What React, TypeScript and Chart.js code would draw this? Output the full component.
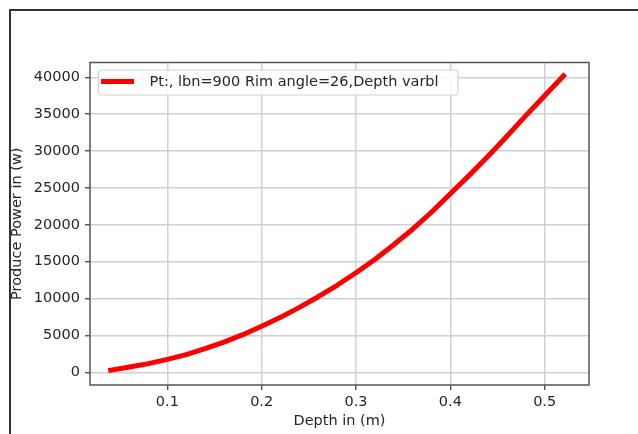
import React, { useEffect, useRef } from 'react';
import { Chart, registerables } from 'chart.js';

Chart.register(...registerables);

// ---- data ----
const depth = [
  0.04, 0.06, 0.08, 0.1, 0.12, 0.14, 0.16, 0.18, 0.2, 0.22, 0.24, 0.26, 0.28,
  0.3, 0.32, 0.34, 0.36, 0.38, 0.4, 0.42, 0.44, 0.46, 0.48, 0.5, 0.52,
];
const power = [
  300, 720, 1180, 1760, 2400, 3200, 4100, 5100, 6250, 7450, 8800, 10250, 11800,
  13500, 15300, 17300, 19400, 21700, 24200, 26700, 29300, 32000, 34800, 37500, 40200,
];
const xTickValues = [0.1, 0.2, 0.3, 0.4, 0.5];
const xTickLabels = ['0.1', '0.2', '0.3', '0.4', '0.5'];
const yTickValues = [0, 5000, 10000, 15000, 20000, 25000, 30000, 35000, 40000];
const yTickLabels = ['0', '5000', '10000', '15000', '20000', '25000', '30000', '35000', '40000'];
const seriesLabel = 'Pt:, lbn=900 Rim angle=26,Depth varbl';
const xTitle = 'Depth in (m)';
const yTitle = 'Produce Power in (w)';

const FONT = '"DejaVu Sans", sans-serif';
const FS = 14.5;
const TEXT = '#262626';

const framePlugin = {
  id: 'mplFrame',
  afterDraw(chart: any) {
    const { ctx, chartArea } = chart;
    const { left, top, right, bottom } = chartArea;
    ctx.save();
    // spines
    ctx.strokeStyle = '#555555';
    ctx.lineWidth = 1.5;
    ctx.strokeRect(left, top, right - left, bottom - top);

    // legend (matplotlib style, upper left)
    const ds = chart.data.datasets[0];
    const bx = 98.5, by = 70, bw = 359.5, bh = 25;
    ctx.beginPath();
    (ctx as any).roundRect(bx, by, bw, bh, 3.5);
    ctx.fillStyle = 'rgba(255,255,255,0.85)';
    ctx.fill();
    ctx.strokeStyle = '#d2d2d2';
    ctx.lineWidth = 1.2;
    ctx.stroke();

    ctx.beginPath();
    ctx.moveTo(101, 81.5);
    ctx.lineTo(134, 81.5);
    ctx.strokeStyle = ds.borderColor;
    ctx.lineWidth = 5;
    ctx.lineCap = 'butt';
    ctx.stroke();

    ctx.font = `${FS}px ${FONT}`;
    ctx.fillStyle = TEXT;
    ctx.textBaseline = 'middle';
    ctx.textAlign = 'left';
    ctx.fillText(ds.label, 149.5, 82.5);
    ctx.restore();
  },
};

export default function App() {
  const ref = useRef<HTMLCanvasElement | null>(null);

  useEffect(() => {
    if (!ref.current) return;
    const chart = new Chart(ref.current, {
      type: 'line',
      data: {
        datasets: [
          {
            label: seriesLabel,
            data: depth.map((d, i) => ({ x: d, y: power[i] })),
            borderColor: '#ff0000',
            backgroundColor: '#ff0000',
            borderWidth: 5,
            pointRadius: 0,
            tension: 0,
            borderCapStyle: 'square',
            borderJoinStyle: 'round',
            fill: false,
          },
        ],
      },
      options: {
        animation: false,
        responsive: false,
        devicePixelRatio: 1,
        layout: { padding: { left: 0, top: 62.5, right: 49, bottom: 0 } },
        plugins: {
          legend: { display: false },
          tooltip: { enabled: false },
        },
        scales: {
          x: {
            type: 'linear',
            min: 0.018,
            max: 0.547,
            afterFit: (s: any) => {
              s.height = 49;
            },
            afterBuildTicks: (s: any) => {
              s.ticks = xTickValues.map((v) => ({ value: v }));
            },
            ticks: {
              callback: (v: any) => {
                const i = xTickValues.findIndex((t) => Math.abs(t - Number(v)) < 1e-9);
                return i >= 0 ? xTickLabels[i] : '';
              },
              font: { family: FONT, size: FS },
              color: TEXT,
              padding: 4,
              maxRotation: 0,
              autoSkip: false,
            },
            grid: {
              color: '#d0d0d0',
              lineWidth: 1.5,
              tickLength: 5,
              tickColor: '#333333',
              tickWidth: 1.2,
            },
            border: { display: false },
            title: {
              display: true,
              text: xTitle,
              font: { family: FONT, size: FS },
              color: TEXT,
              padding: { top: 0, bottom: 4.3 },
            },
          },
          y: {
            type: 'linear',
            min: -1720,
            max: 42000,
            afterFit: (s: any) => {
              s.width = 90;
            },
            afterBuildTicks: (s: any) => {
              s.ticks = yTickValues.map((v) => ({ value: v }));
            },
            ticks: {
              callback: (v: any) => {
                const i = yTickValues.findIndex((t) => Math.abs(t - Number(v)) < 1e-6);
                return i >= 0 ? yTickLabels[i] : '';
              },
              font: { family: FONT, size: FS },
              color: TEXT,
              padding: 5,
              autoSkip: false,
            },
            grid: {
              color: '#d0d0d0',
              lineWidth: 1.5,
              tickLength: 5,
              tickColor: '#333333',
              tickWidth: 1.2,
            },
            border: { display: false },
            title: {
              display: true,
              text: yTitle,
              font: { family: FONT, size: FS },
              color: TEXT,
              padding: { top: 8.6, bottom: 0 },
            },
          },
        },
      } as any,
      plugins: [framePlugin],
    });
    return () => chart.destroy();
  }, []);

  return (
    <div style={{ position: 'fixed', left: 0, top: 0, width: 638, height: 434, overflow: 'hidden', background: '#fff' }}>
      <div
        style={{
          position: 'absolute',
          left: 9,
          top: 9,
          width: 700,
          height: 500,
          borderTop: '2px solid #333',
          borderLeft: '2px solid #333',
        }}
      />
      <canvas
        ref={ref}
        width={638}
        height={434}
        style={{ position: 'absolute', left: 0, top: 0, width: 638, height: 434 }}
      />
    </div>
  );
}
